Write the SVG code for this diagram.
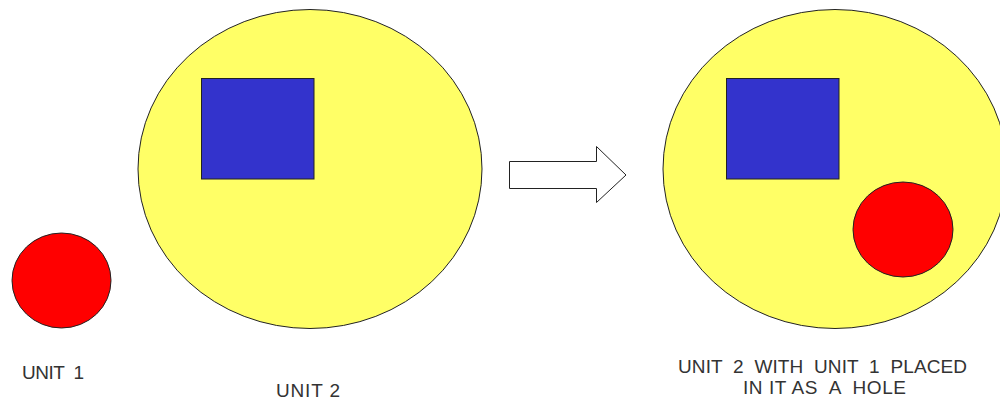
<svg xmlns="http://www.w3.org/2000/svg" width="1000" height="400" viewBox="0 0 1000 400">
<style>
.s{stroke:#222;stroke-width:1}
.y{fill:#FFFF66}
.b{fill:#3333CC}
.r{fill:#FF0000}
.t{font-family:"Liberation Sans",Arial,sans-serif;font-size:19px;fill:#333;text-anchor:middle;white-space:pre}
</style>
<rect width="1000" height="400" fill="#fff"/>
<g id="unit1">
<ellipse class="s r" cx="61.5" cy="280.5" rx="49.5" ry="47.5"/>
<text class="t" x="53" y="379" textLength="62" lengthAdjust="spacing" xml:space="preserve">UNIT  1</text>
</g>
<g id="unit2">
<ellipse class="s y" cx="310" cy="169" rx="172" ry="159.5"/>
<rect class="s b" x="201.5" y="78.5" width="112.5" height="100.5"/>
<text class="t" x="308" y="397" textLength="64" lengthAdjust="spacing" xml:space="preserve">UNIT 2</text>
</g>
<g id="connectors">
<polygon class="s" fill="#fff" points="509.5,161.5 596.5,161.5 596.5,146.5 626,175 596.5,202.5 596.5,188.5 509.5,188.5"/>
</g>
<g id="result">
<ellipse class="s y" cx="835" cy="169" rx="172" ry="159.5"/>
<rect class="s b" x="726.5" y="78.5" width="112.5" height="100.5"/>
<ellipse class="s r" cx="903" cy="229.5" rx="50" ry="47.5"/>
<text class="t" x="822.5" y="373" textLength="289" lengthAdjust="spacing" xml:space="preserve">UNIT  2  WITH  UNIT  1  PLACED</text>
<text class="t" x="824.5" y="394" textLength="163" lengthAdjust="spacing" xml:space="preserve">IN IT AS  A  HOLE</text>
</g>
</svg>
